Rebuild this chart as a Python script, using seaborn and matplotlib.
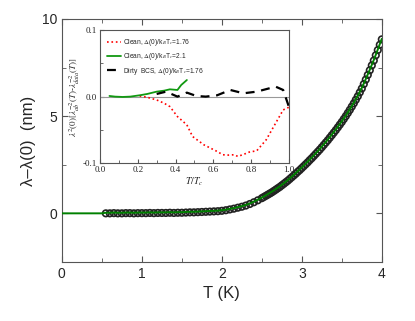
import numpy as np
import pandas as pd
import seaborn as sns
from matplotlib import pyplot as plt

# main panel: penetration depth shift vs temperature
temp_K = [0.55, 0.6, 0.65, 0.7, 0.75, 0.8, 0.85, 0.9, 0.95, 1.0,
          1.05, 1.1, 1.15, 1.2, 1.25, 1.3, 1.35, 1.4, 1.45, 1.5,
          1.55, 1.6, 1.65, 1.7, 1.75, 1.8, 1.85, 1.9, 1.95, 2.0,
          2.05, 2.1, 2.15, 2.2, 2.25, 2.3, 2.35, 2.4, 2.45, 2.5,
          2.55, 2.6, 2.65, 2.7, 2.75, 2.8, 2.85, 2.9, 2.95, 3.0,
          3.05, 3.1, 3.15, 3.2, 3.25, 3.3, 3.35, 3.4, 3.45, 3.5,
          3.55, 3.6, 3.65, 3.7, 3.75, 3.8, 3.85, 3.9, 3.95, 4.0]
dlambda_nm = [0.0, 0.0, 0.01, 0.0, 0.0, 0.01, 0.01, 0.0, 0.01, 0.01,
              0.01, 0.02, 0.01, 0.02, 0.02, 0.02, 0.03, 0.02, 0.03, 0.03,
              0.04, 0.05, 0.05, 0.06, 0.07, 0.08, 0.09, 0.10, 0.11, 0.13,
              0.16, 0.20, 0.24, 0.29, 0.34, 0.40, 0.48, 0.57, 0.67, 0.78,
              0.90, 1.02, 1.15, 1.29, 1.44, 1.60, 1.77, 1.95, 2.14, 2.33,
              2.53, 2.74, 2.95, 3.17, 3.40, 3.64, 3.89, 4.15, 4.42, 4.70,
              5.00, 5.32, 5.66, 6.02, 6.42, 6.88, 7.36, 7.86, 8.40, 8.95]
# extra readings in the steep part of the curve
temp_K_hi = [2.525, 2.575, 2.625, 2.675, 2.725, 2.775, 2.825, 2.875, 2.925, 2.975,
             3.025, 3.075, 3.125, 3.175, 3.225, 3.275, 3.325, 3.375, 3.425, 3.475,
             3.525, 3.575, 3.625, 3.675, 3.725, 3.775, 3.825, 3.875, 3.925, 3.975]
dlambda_hi = [0.84, 0.96, 1.08, 1.22, 1.36, 1.52, 1.68, 1.86, 2.04, 2.23,
              2.43, 2.63, 2.84, 3.06, 3.28, 3.52, 3.76, 4.02, 4.28, 4.56,
              4.85, 5.16, 5.49, 5.84, 6.22, 6.65, 7.12, 7.61, 8.13, 8.67]
# fit line starts at T = 0
fit_T = [0.0, 0.1, 0.2, 0.3, 0.4, 0.5] + temp_K
fit_nm = [0.0, 0.0, 0.0, 0.0, 0.0, 0.0] + [v + 0.03 for v in dlambda_nm]

# inset: superfluid density deviation vs T/Tc
red_t = [0.21, 0.25, 0.30, 0.34, 0.37, 0.41, 0.46, 0.49, 0.55, 0.62, 0.65,
         0.68, 0.71, 0.73, 0.76, 0.79, 0.83, 0.88, 0.93, 0.97, 1.0]
red_v = [0.001, -0.001, -0.005, -0.010, -0.015, -0.030, -0.0425, -0.060,
         -0.0725, -0.0825, -0.0875, -0.088, -0.0875, -0.090, -0.087,
         -0.0835, -0.0815, -0.065, -0.040, -0.020, -0.016]
green_t = [0.05, 0.08, 0.12, 0.16, 0.21, 0.25, 0.30, 0.34, 0.37, 0.41, 0.43, 0.46]
green_v = [0.001, 0.0, -0.0005, 0.0, 0.002, 0.004, 0.0075, 0.009, 0.011, 0.010, 0.0175, 0.025]
black_t = [0.30, 0.35, 0.41, 0.46, 0.51, 0.56, 0.62, 0.69, 0.76, 0.83, 0.93, 0.97, 1.0]
black_v = [0.004, 0.0075, 0.0, 0.006, 0.001, 0.0, 0.002, 0.010, 0.005, 0.0075, 0.015, 0.010, -0.015]

sns.set_style("ticks")
plt.rcParams["font.family"] = ["Liberation Sans", "DejaVu Sans"]
plt.rcParams["mathtext.fontset"] = "stix"

fig = plt.figure(figsize=(4.15, 3.21), dpi=100)
ax = fig.add_axes([0.149, 0.184, 0.771, 0.757])

main = pd.DataFrame({"T": temp_K + temp_K_hi, "d": dlambda_nm + dlambda_hi})
fit = pd.DataFrame({"T": fit_T, "d": fit_nm})
sns.scatterplot(data=main, x="T", y="d", ax=ax, marker="o", s=22,
                facecolor="none", edgecolor="#222222", linewidth=1.2, zorder=2)
sns.lineplot(data=fit, x="T", y="d", ax=ax, color="#008000", lw=1.4, zorder=3)

ax.set_xlim(0, 4)
ax.set_ylim(-2.5, 10)
ax.set_xticks([0, 1, 2, 3, 4])
ax.set_xticks(np.arange(0.5, 4, 1), minor=True)
ax.set_yticks([0, 5, 10])
ax.set_yticks([-2.5, 2.5, 7.5], minor=True)
ax.tick_params(which="both", direction="in", top=True, right=True,
               labelsize=10, color="#555555")
ax.tick_params(which="major", length=4)
ax.tick_params(which="minor", length=3)
for sp in ax.spines.values():
    sp.set_color("#555555")
ax.set_xlabel("T (K)", fontsize=12)
ax.set_ylabel("λ–λ(0)  (nm)", fontsize=12)

# inset
ins = fig.add_axes([0.241, 0.492, 0.455, 0.414])
ins.axhline(0, color="#999999", lw=0.8, zorder=1)
sns.lineplot(x=red_t, y=red_v, ax=ins, color="red", lw=1.2, ls=":",
             label=r"Clean, $\Delta$(0)/k$_B$T$_c$=1.76")
sns.lineplot(x=green_t, y=green_v, ax=ins, color="#119911", lw=1.3,
             label=r"Clean, $\Delta$(0)/k$_B$T$_c$=2.1")
sns.lineplot(x=black_t, y=black_v, ax=ins, color="black", lw=1.6,
             ls=(0, (4, 3)), label=r"Dirty  BCS, $\Delta$(0)/k$_B$T$_c$=1.76")
ins.set_xlim(0, 1.0)
ins.set_ylim(-0.1, 0.1)
ins.set_xticks([0.0, 0.2, 0.4, 0.6, 0.8, 1.0])
ins.set_xticks(np.arange(0.1, 1.0, 0.2), minor=True)
ins.set_yticks([-0.1, 0.0, 0.1])
ins.set_yticks([-0.05, 0.05], minor=True)
ins.set_xticklabels(["0.0", "0.2", "0.4", "0.6", "0.8", "1.0"],
                    family="Liberation Serif", fontsize=6.5)
ins.set_yticklabels(["-0.1", "0.0", "0.1"], family="Liberation Serif", fontsize=6.5)
ins.tick_params(which="both", direction="in", color="#555555", pad=2)
ins.tick_params(which="major", length=3)
ins.tick_params(which="minor", length=2)
for sp in ins.spines.values():
    sp.set_color("#555555")
ins.set_xlabel(r"$T/T_c$", fontsize=7, labelpad=1)
ins.set_ylabel(r"$\lambda^2(0)[\lambda_{ab}^{-2}(T)$-$\lambda_{data}^{-2}(T)]$",
               fontsize=6.5, labelpad=1)
ins.legend(loc="upper left", frameon=False, fontsize=4.8, handlelength=2.2,
           handletextpad=0.3, labelspacing=0.5, borderaxespad=0.6)

fig.savefig("out.png", dpi=100)
